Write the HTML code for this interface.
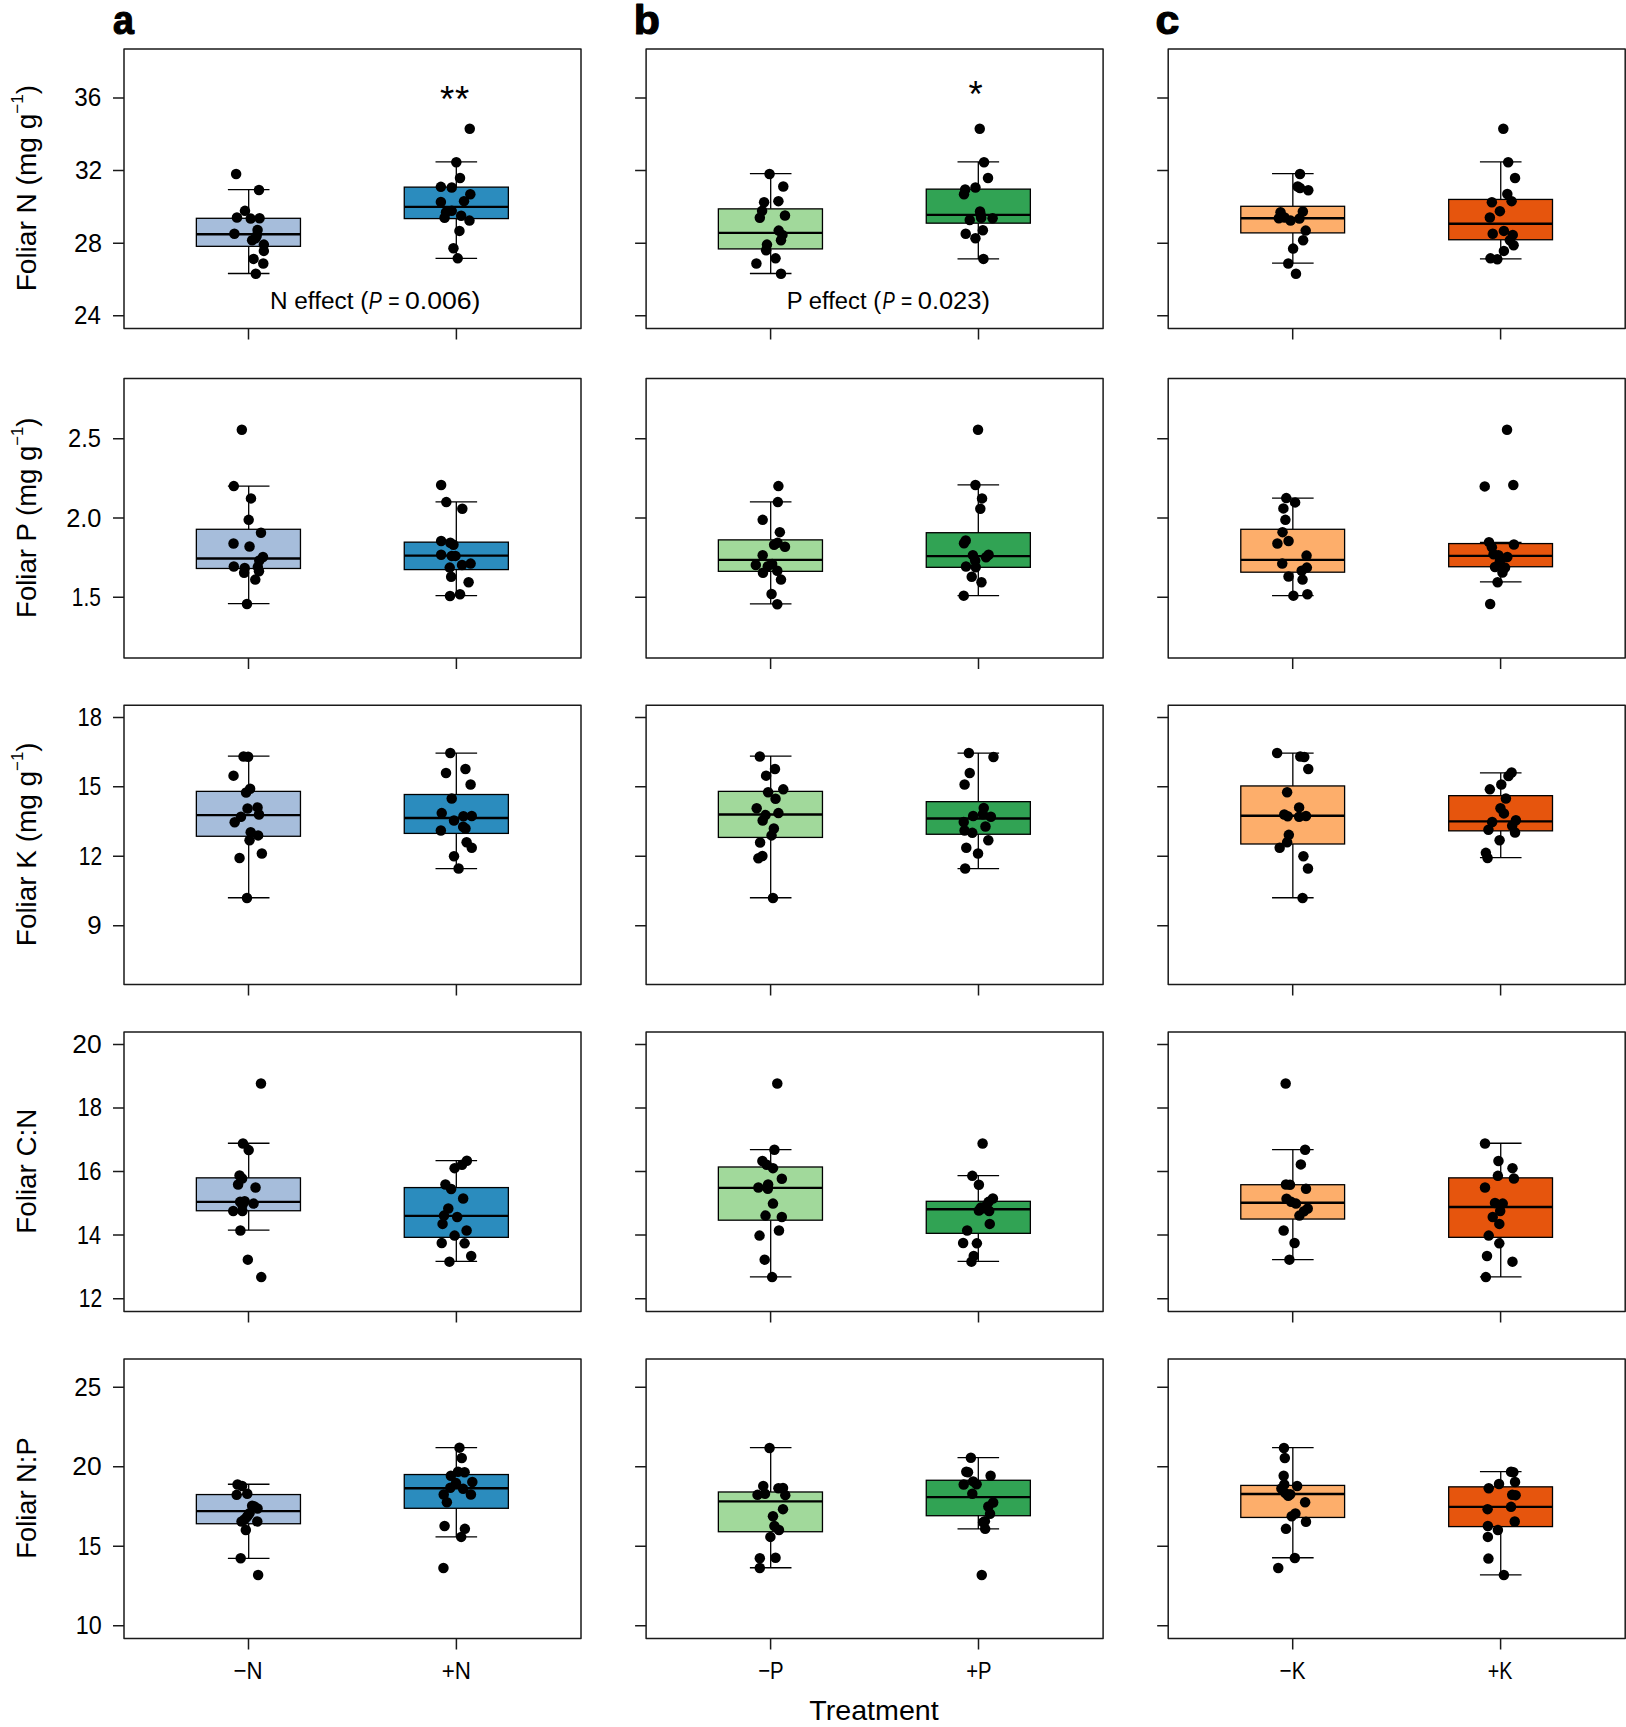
<!DOCTYPE html>
<html lang="en"><head><meta charset="utf-8"><title>Foliar nutrient responses to N, P and K treatments</title>
<style>html,body{margin:0;padding:0;background:#fff}body{width:1626px;height:1727px;overflow:hidden}svg{display:block}text{font-family:"Liberation Sans", Arial, Helvetica, sans-serif;fill:#000}</style></head><body>
<svg width="1626" height="1727" viewBox="0 0 1626 1727">
<rect width="1626" height="1727" fill="#fff"/>
<g id="panel-a1">
<rect x="124" y="49.1" width="457" height="279.3" fill="none" stroke="#1a1a1a" stroke-width="1.5" stroke-linejoin="round"/>
<path d="M113 98H124M113 170.6H124M113 243.2H124M113 315.8H124M248.5 328.4V339.4M456.4 328.4V339.4" stroke="#1a1a1a" stroke-width="1.5" fill="none"/>
<path d="M248.69 189.7V218.3M248.69 246.33V273.5M227.89 189.7H269.49M227.89 273.5H269.49" stroke="#000" stroke-width="1.3" fill="none"/>
<rect x="196.36" y="218.3" width="104.1" height="28.03" fill="#a6bddb" stroke="#000" stroke-width="1.3"/>
<path d="M196.36 234.32H300.45" stroke="#000" stroke-width="2.4"/>
<path d="M456.31 161.96V187.13M456.31 218.59V258.34M435.51 161.96H477.11M435.51 258.34H477.11" stroke="#000" stroke-width="1.3" fill="none"/>
<rect x="404.26" y="187.13" width="104.1" height="31.46" fill="#2b8cbe" stroke="#000" stroke-width="1.3"/>
<path d="M404.26 206.86H508.36" stroke="#000" stroke-width="2.4"/>
<g fill="#000"><circle cx="236.11" cy="173.98" r="5.25"/><circle cx="258.99" cy="189.99" r="5.25"/><circle cx="244.97" cy="210.87" r="5.25"/><circle cx="236.96" cy="217.44" r="5.25"/><circle cx="250.69" cy="218.59" r="5.25"/><circle cx="259.56" cy="218.3" r="5.25"/><circle cx="257.56" cy="230.03" r="5.25"/><circle cx="234.39" cy="233.75" r="5.25"/><circle cx="256.7" cy="235.75" r="5.25"/><circle cx="252.12" cy="240.32" r="5.25"/><circle cx="263.85" cy="244.61" r="5.25"/><circle cx="263.85" cy="250.9" r="5.25"/><circle cx="253.55" cy="258.91" r="5.25"/><circle cx="263.27" cy="263.49" r="5.25"/><circle cx="255.84" cy="273.78" r="5.25"/><circle cx="255.55" cy="238.32" r="5.25"/><circle cx="469.75" cy="128.79" r="5.25"/><circle cx="456.31" cy="162.25" r="5.25"/><circle cx="460.03" cy="177.98" r="5.25"/><circle cx="440.87" cy="186.85" r="5.25"/><circle cx="451.73" cy="187.42" r="5.25"/><circle cx="470.32" cy="194.28" r="5.25"/><circle cx="440.87" cy="202" r="5.25"/><circle cx="464.03" cy="201.14" r="5.25"/><circle cx="451.73" cy="210.87" r="5.25"/><circle cx="446.01" cy="212.3" r="5.25"/><circle cx="444.58" cy="217.73" r="5.25"/><circle cx="461.17" cy="215.73" r="5.25"/><circle cx="469.46" cy="220.59" r="5.25"/><circle cx="459.46" cy="230.89" r="5.25"/><circle cx="453.45" cy="248.33" r="5.25"/><circle cx="457.74" cy="258.34" r="5.25"/></g>
</g>
<g id="panel-b1">
<rect x="646.1" y="49.1" width="457" height="279.3" fill="none" stroke="#1a1a1a" stroke-width="1.5" stroke-linejoin="round"/>
<path d="M635.1 98H646.1M635.1 170.6H646.1M635.1 243.2H646.1M635.1 315.8H646.1M770.6 328.4V339.4M978.5 328.4V339.4" stroke="#1a1a1a" stroke-width="1.5" fill="none"/>
<path d="M770.69 173.69V208.87M770.69 248.9V273.5M749.89 173.69H791.49M749.89 273.5H791.49" stroke="#000" stroke-width="1.3" fill="none"/>
<rect x="718.36" y="208.87" width="104.1" height="40.04" fill="#a1d99b" stroke="#000" stroke-width="1.3"/>
<path d="M718.36 232.89H822.45" stroke="#000" stroke-width="2.4"/>
<path d="M978.31 161.96V189.13M978.31 223.16V258.91M957.51 161.96H999.11M957.51 258.91H999.11" stroke="#000" stroke-width="1.3" fill="none"/>
<rect x="926.26" y="189.13" width="104.1" height="34.03" fill="#31a354" stroke="#000" stroke-width="1.3"/>
<path d="M926.26 214.87H1030.36" stroke="#000" stroke-width="2.4"/>
<g fill="#000"><circle cx="769.55" cy="173.98" r="5.25"/><circle cx="783.27" cy="186.56" r="5.25"/><circle cx="764.11" cy="202.29" r="5.25"/><circle cx="778.41" cy="201.14" r="5.25"/><circle cx="762.11" cy="210.87" r="5.25"/><circle cx="759.82" cy="217.73" r="5.25"/><circle cx="784.99" cy="215.44" r="5.25"/><circle cx="778.7" cy="230.6" r="5.25"/><circle cx="782.42" cy="234.89" r="5.25"/><circle cx="780.99" cy="240.32" r="5.25"/><circle cx="766.97" cy="244.61" r="5.25"/><circle cx="766.11" cy="250.33" r="5.25"/><circle cx="775.55" cy="258.34" r="5.25"/><circle cx="756.39" cy="263.49" r="5.25"/><circle cx="780.99" cy="273.78" r="5.25"/><circle cx="979.74" cy="128.79" r="5.25"/><circle cx="984.03" cy="162.25" r="5.25"/><circle cx="988.03" cy="177.98" r="5.25"/><circle cx="975.45" cy="187.42" r="5.25"/><circle cx="965.15" cy="189.42" r="5.25"/><circle cx="964.01" cy="194.28" r="5.25"/><circle cx="980.03" cy="211.44" r="5.25"/><circle cx="981.17" cy="217.73" r="5.25"/><circle cx="969.73" cy="220.02" r="5.25"/><circle cx="992.61" cy="218.3" r="5.25"/><circle cx="982.89" cy="230.31" r="5.25"/><circle cx="965.73" cy="233.75" r="5.25"/><circle cx="975.45" cy="238.32" r="5.25"/><circle cx="983.46" cy="258.91" r="5.25"/><circle cx="980.6" cy="214.58" r="5.25"/></g>
</g>
<g id="panel-c1">
<rect x="1168.2" y="49.1" width="457" height="279.3" fill="none" stroke="#1a1a1a" stroke-width="1.5" stroke-linejoin="round"/>
<path d="M1157.2 98H1168.2M1157.2 170.6H1168.2M1157.2 243.2H1168.2M1157.2 315.8H1168.2M1292.7 328.4V339.4M1500.6 328.4V339.4" stroke="#1a1a1a" stroke-width="1.5" fill="none"/>
<path d="M1292.84 173.69V206.29M1292.84 232.89V263.2M1272.04 173.69H1313.64M1272.04 263.2H1313.64" stroke="#000" stroke-width="1.3" fill="none"/>
<rect x="1240.79" y="206.29" width="103.81" height="26.6" fill="#fdae6b" stroke="#000" stroke-width="1.3"/>
<path d="M1240.79 218.3H1344.6" stroke="#000" stroke-width="2.4"/>
<path d="M1500.74 161.96V199.43M1500.74 239.75V258.91M1479.94 161.96H1521.54M1479.94 258.91H1521.54" stroke="#000" stroke-width="1.3" fill="none"/>
<rect x="1448.69" y="199.43" width="103.81" height="40.32" fill="#e6550d" stroke="#000" stroke-width="1.3"/>
<path d="M1448.69 223.74H1552.5" stroke="#000" stroke-width="2.4"/>
<g fill="#000"><circle cx="1299.99" cy="173.98" r="5.25"/><circle cx="1297.7" cy="186.56" r="5.25"/><circle cx="1299.99" cy="187.99" r="5.25"/><circle cx="1308.28" cy="190.28" r="5.25"/><circle cx="1280.54" cy="212.3" r="5.25"/><circle cx="1302.85" cy="211.44" r="5.25"/><circle cx="1278.82" cy="218.3" r="5.25"/><circle cx="1284.54" cy="217.44" r="5.25"/><circle cx="1290.55" cy="220.59" r="5.25"/><circle cx="1299.41" cy="218.59" r="5.25"/><circle cx="1305.7" cy="230.6" r="5.25"/><circle cx="1303.13" cy="240.32" r="5.25"/><circle cx="1293.12" cy="248.62" r="5.25"/><circle cx="1288.26" cy="263.49" r="5.25"/><circle cx="1295.98" cy="273.78" r="5.25"/><circle cx="1503.32" cy="128.79" r="5.25"/><circle cx="1508.18" cy="162.25" r="5.25"/><circle cx="1515.04" cy="177.98" r="5.25"/><circle cx="1507.32" cy="193.99" r="5.25"/><circle cx="1511.61" cy="201.14" r="5.25"/><circle cx="1491.88" cy="202.29" r="5.25"/><circle cx="1499.88" cy="211.15" r="5.25"/><circle cx="1489.87" cy="217.44" r="5.25"/><circle cx="1503.89" cy="230.89" r="5.25"/><circle cx="1492.73" cy="233.75" r="5.25"/><circle cx="1512.75" cy="234.89" r="5.25"/><circle cx="1509.89" cy="240.32" r="5.25"/><circle cx="1513.61" cy="245.18" r="5.25"/><circle cx="1503.89" cy="250.9" r="5.25"/><circle cx="1490.45" cy="258.34" r="5.25"/><circle cx="1497.31" cy="259.2" r="5.25"/></g>
</g>
<g id="panel-a2">
<rect x="124" y="378.6" width="457" height="279.4" fill="none" stroke="#1a1a1a" stroke-width="1.5" stroke-linejoin="round"/>
<path d="M113 438.65H124M113 518.1H124M113 597.3H124M248.5 658V669M456.4 658V669" stroke="#1a1a1a" stroke-width="1.5" fill="none"/>
<path d="M248.69 486.1V529.29M248.69 568.46V603.64M227.89 486.1H269.49M227.89 603.64H269.49" stroke="#000" stroke-width="1.3" fill="none"/>
<rect x="196.36" y="529.29" width="104.1" height="39.18" fill="#a6bddb" stroke="#000" stroke-width="1.3"/>
<path d="M196.36 558.46H300.45" stroke="#000" stroke-width="2.4"/>
<path d="M456.31 501.83V542.15M456.31 569.61V595.63M435.51 501.83H477.11M435.51 595.63H477.11" stroke="#000" stroke-width="1.3" fill="none"/>
<rect x="404.26" y="542.15" width="104.1" height="27.45" fill="#2b8cbe" stroke="#000" stroke-width="1.3"/>
<path d="M404.26 555.6H508.36" stroke="#000" stroke-width="2.4"/>
<g fill="#000"><circle cx="241.83" cy="429.77" r="5.25"/><circle cx="233.82" cy="486.1" r="5.25"/><circle cx="250.98" cy="498.4" r="5.25"/><circle cx="248.69" cy="519.85" r="5.25"/><circle cx="260.99" cy="532.72" r="5.25"/><circle cx="233.53" cy="543.58" r="5.25"/><circle cx="249.55" cy="546.44" r="5.25"/><circle cx="262.99" cy="557.03" r="5.25"/><circle cx="259.27" cy="560.46" r="5.25"/><circle cx="233.82" cy="566.46" r="5.25"/><circle cx="244.69" cy="567.89" r="5.25"/><circle cx="257.84" cy="567.04" r="5.25"/><circle cx="244.11" cy="572.75" r="5.25"/><circle cx="258.99" cy="571.32" r="5.25"/><circle cx="255.27" cy="579.62" r="5.25"/><circle cx="246.97" cy="603.93" r="5.25"/><circle cx="441.15" cy="484.96" r="5.25"/><circle cx="446.3" cy="502.12" r="5.25"/><circle cx="462.32" cy="508.7" r="5.25"/><circle cx="441.15" cy="541.01" r="5.25"/><circle cx="450.3" cy="542.73" r="5.25"/><circle cx="453.45" cy="544.73" r="5.25"/><circle cx="441.15" cy="554.74" r="5.25"/><circle cx="451.73" cy="555.88" r="5.25"/><circle cx="455.45" cy="555.88" r="5.25"/><circle cx="470.61" cy="563.6" r="5.25"/><circle cx="462.03" cy="565.03" r="5.25"/><circle cx="449.73" cy="567.61" r="5.25"/><circle cx="451.16" cy="576.76" r="5.25"/><circle cx="468.61" cy="582.19" r="5.25"/><circle cx="460.03" cy="594.2" r="5.25"/><circle cx="450.02" cy="595.92" r="5.25"/></g>
</g>
<g id="panel-b2">
<rect x="646.1" y="378.6" width="457" height="279.4" fill="none" stroke="#1a1a1a" stroke-width="1.5" stroke-linejoin="round"/>
<path d="M635.1 438.65H646.1M635.1 518.1H646.1M635.1 597.3H646.1M770.6 658V669M978.5 658V669" stroke="#1a1a1a" stroke-width="1.5" fill="none"/>
<path d="M770.69 501.83V539.87M770.69 571.32V603.93M749.89 501.83H791.49M749.89 603.93H791.49" stroke="#000" stroke-width="1.3" fill="none"/>
<rect x="718.36" y="539.87" width="104.1" height="31.46" fill="#a1d99b" stroke="#000" stroke-width="1.3"/>
<path d="M718.36 559.89H822.45" stroke="#000" stroke-width="2.4"/>
<path d="M978.31 484.96V532.72M978.31 567.32V595.63M957.51 484.96H999.11M957.51 595.63H999.11" stroke="#000" stroke-width="1.3" fill="none"/>
<rect x="926.26" y="532.72" width="104.1" height="34.6" fill="#31a354" stroke="#000" stroke-width="1.3"/>
<path d="M926.26 556.17H1030.36" stroke="#000" stroke-width="2.4"/>
<g fill="#000"><circle cx="778.41" cy="486.1" r="5.25"/><circle cx="777.84" cy="502.12" r="5.25"/><circle cx="762.68" cy="519.85" r="5.25"/><circle cx="779.84" cy="532.15" r="5.25"/><circle cx="777.55" cy="542.73" r="5.25"/><circle cx="774.12" cy="544.73" r="5.25"/><circle cx="784.99" cy="546.73" r="5.25"/><circle cx="762.68" cy="555.31" r="5.25"/><circle cx="755.82" cy="565.03" r="5.25"/><circle cx="772.12" cy="563.89" r="5.25"/><circle cx="767.83" cy="566.18" r="5.25"/><circle cx="777.27" cy="570.75" r="5.25"/><circle cx="762.97" cy="572.75" r="5.25"/><circle cx="780.99" cy="579.62" r="5.25"/><circle cx="771.55" cy="593.92" r="5.25"/><circle cx="777.27" cy="604.21" r="5.25"/><circle cx="978.02" cy="429.77" r="5.25"/><circle cx="975.45" cy="484.96" r="5.25"/><circle cx="982.03" cy="498.4" r="5.25"/><circle cx="980.31" cy="508.7" r="5.25"/><circle cx="965.73" cy="540.44" r="5.25"/><circle cx="964.01" cy="543.3" r="5.25"/><circle cx="972.88" cy="555.31" r="5.25"/><circle cx="988.61" cy="554.74" r="5.25"/><circle cx="986.03" cy="557.31" r="5.25"/><circle cx="975.16" cy="560.46" r="5.25"/><circle cx="966.01" cy="566.46" r="5.25"/><circle cx="975.74" cy="567.32" r="5.25"/><circle cx="971.73" cy="576.76" r="5.25"/><circle cx="981.46" cy="582.19" r="5.25"/><circle cx="963.73" cy="595.63" r="5.25"/></g>
</g>
<g id="panel-c2">
<rect x="1168.2" y="378.6" width="457" height="279.4" fill="none" stroke="#1a1a1a" stroke-width="1.5" stroke-linejoin="round"/>
<path d="M1157.2 438.65H1168.2M1157.2 518.1H1168.2M1157.2 597.3H1168.2M1292.7 658V669M1500.6 658V669" stroke="#1a1a1a" stroke-width="1.5" fill="none"/>
<path d="M1292.84 498.11V529.29M1292.84 572.18V595.63M1272.04 498.11H1313.64M1272.04 595.63H1313.64" stroke="#000" stroke-width="1.3" fill="none"/>
<rect x="1240.79" y="529.29" width="103.81" height="42.9" fill="#fdae6b" stroke="#000" stroke-width="1.3"/>
<path d="M1240.79 559.89H1344.6" stroke="#000" stroke-width="2.4"/>
<path d="M1500.74 542.44V543.58M1500.74 566.75V581.91M1479.94 542.44H1521.54M1479.94 581.91H1521.54" stroke="#000" stroke-width="1.3" fill="none"/>
<rect x="1448.69" y="543.58" width="103.81" height="23.16" fill="#e6550d" stroke="#000" stroke-width="1.3"/>
<path d="M1448.69 555.88H1552.5" stroke="#000" stroke-width="2.4"/>
<g fill="#000"><circle cx="1286.26" cy="498.11" r="5.25"/><circle cx="1295.12" cy="502.4" r="5.25"/><circle cx="1283.4" cy="508.41" r="5.25"/><circle cx="1285.4" cy="519.85" r="5.25"/><circle cx="1282.54" cy="532.15" r="5.25"/><circle cx="1288.55" cy="541.01" r="5.25"/><circle cx="1277.39" cy="543.58" r="5.25"/><circle cx="1306.56" cy="555.6" r="5.25"/><circle cx="1282.25" cy="563.6" r="5.25"/><circle cx="1306.85" cy="567.61" r="5.25"/><circle cx="1301.7" cy="570.75" r="5.25"/><circle cx="1288.55" cy="576.47" r="5.25"/><circle cx="1302.56" cy="579.62" r="5.25"/><circle cx="1293.41" cy="595.63" r="5.25"/><circle cx="1307.42" cy="594.2" r="5.25"/><circle cx="1507.03" cy="429.77" r="5.25"/><circle cx="1484.73" cy="486.39" r="5.25"/><circle cx="1513.32" cy="484.96" r="5.25"/><circle cx="1489.02" cy="542.15" r="5.25"/><circle cx="1513.9" cy="544.44" r="5.25"/><circle cx="1491.88" cy="547.3" r="5.25"/><circle cx="1493.59" cy="554.17" r="5.25"/><circle cx="1498.45" cy="555.31" r="5.25"/><circle cx="1507.32" cy="557.03" r="5.25"/><circle cx="1499.88" cy="561.32" r="5.25"/><circle cx="1495.02" cy="567.04" r="5.25"/><circle cx="1505.03" cy="567.61" r="5.25"/><circle cx="1502.46" cy="572.47" r="5.25"/><circle cx="1497.6" cy="582.19" r="5.25"/><circle cx="1490.16" cy="603.93" r="5.25"/></g>
</g>
<g id="panel-a3">
<rect x="124" y="705.15" width="457" height="279.45" fill="none" stroke="#1a1a1a" stroke-width="1.5" stroke-linejoin="round"/>
<path d="M113 717.4H124M113 786.8H124M113 856.3H124M113 925.8H124M248.5 984.6V995.6M456.4 984.6V995.6" stroke="#1a1a1a" stroke-width="1.5" fill="none"/>
<path d="M248.69 756.19V791.37M248.69 836.27V897.75M227.89 756.19H269.49M227.89 897.75H269.49" stroke="#000" stroke-width="1.3" fill="none"/>
<rect x="196.36" y="791.37" width="104.1" height="44.9" fill="#a6bddb" stroke="#000" stroke-width="1.3"/>
<path d="M196.36 815.11H300.45" stroke="#000" stroke-width="2.4"/>
<path d="M456.31 753.05V794.51M456.31 833.41V868.58M435.51 753.05H477.11M435.51 868.58H477.11" stroke="#000" stroke-width="1.3" fill="none"/>
<rect x="404.26" y="794.51" width="104.1" height="38.89" fill="#2b8cbe" stroke="#000" stroke-width="1.3"/>
<path d="M404.26 817.96H508.36" stroke="#000" stroke-width="2.4"/>
<g fill="#000"><circle cx="243.54" cy="756.48" r="5.25"/><circle cx="248.12" cy="756.77" r="5.25"/><circle cx="233.53" cy="775.64" r="5.25"/><circle cx="250.12" cy="788.8" r="5.25"/><circle cx="246.12" cy="792.51" r="5.25"/><circle cx="257.56" cy="807.38" r="5.25"/><circle cx="247.55" cy="808.53" r="5.25"/><circle cx="258.99" cy="814.53" r="5.25"/><circle cx="240.97" cy="816.82" r="5.25"/><circle cx="234.68" cy="822.25" r="5.25"/><circle cx="250.69" cy="832.26" r="5.25"/><circle cx="258.13" cy="835.41" r="5.25"/><circle cx="249.55" cy="840.27" r="5.25"/><circle cx="261.85" cy="853.43" r="5.25"/><circle cx="239.54" cy="858" r="5.25"/><circle cx="246.97" cy="898.04" r="5.25"/><circle cx="450.3" cy="753.05" r="5.25"/><circle cx="465.46" cy="769.06" r="5.25"/><circle cx="446.01" cy="773.07" r="5.25"/><circle cx="470.61" cy="784.51" r="5.25"/><circle cx="451.73" cy="798.52" r="5.25"/><circle cx="441.73" cy="813.1" r="5.25"/><circle cx="463.46" cy="816.25" r="5.25"/><circle cx="471.75" cy="815.96" r="5.25"/><circle cx="454.02" cy="820.54" r="5.25"/><circle cx="463.17" cy="826.83" r="5.25"/><circle cx="465.46" cy="828.55" r="5.25"/><circle cx="440.87" cy="830.55" r="5.25"/><circle cx="466.61" cy="842.27" r="5.25"/><circle cx="471.75" cy="847.71" r="5.25"/><circle cx="454.02" cy="856.29" r="5.25"/><circle cx="458.6" cy="868.58" r="5.25"/></g>
</g>
<g id="panel-b3">
<rect x="646.1" y="705.15" width="457" height="279.45" fill="none" stroke="#1a1a1a" stroke-width="1.5" stroke-linejoin="round"/>
<path d="M635.1 717.4H646.1M635.1 786.8H646.1M635.1 856.3H646.1M635.1 925.8H646.1M770.6 984.6V995.6M978.5 984.6V995.6" stroke="#1a1a1a" stroke-width="1.5" fill="none"/>
<path d="M770.69 756.19V791.37M770.69 837.41V897.75M749.89 756.19H791.49M749.89 897.75H791.49" stroke="#000" stroke-width="1.3" fill="none"/>
<rect x="718.36" y="791.37" width="104.1" height="46.04" fill="#a1d99b" stroke="#000" stroke-width="1.3"/>
<path d="M718.36 814.53H822.45" stroke="#000" stroke-width="2.4"/>
<path d="M978.31 753.05V801.66M978.31 834.27V868.58M957.51 753.05H999.11M957.51 868.58H999.11" stroke="#000" stroke-width="1.3" fill="none"/>
<rect x="926.26" y="801.66" width="104.1" height="32.6" fill="#31a354" stroke="#000" stroke-width="1.3"/>
<path d="M926.26 818.54H1030.36" stroke="#000" stroke-width="2.4"/>
<g fill="#000"><circle cx="759.82" cy="756.48" r="5.25"/><circle cx="774.98" cy="769.06" r="5.25"/><circle cx="766.11" cy="775.64" r="5.25"/><circle cx="783.27" cy="789.37" r="5.25"/><circle cx="768.12" cy="792.23" r="5.25"/><circle cx="775.55" cy="798.8" r="5.25"/><circle cx="756.68" cy="808.24" r="5.25"/><circle cx="778.41" cy="813.1" r="5.25"/><circle cx="765.54" cy="815.11" r="5.25"/><circle cx="762.68" cy="820.54" r="5.25"/><circle cx="773.84" cy="828.55" r="5.25"/><circle cx="771.55" cy="835.41" r="5.25"/><circle cx="760.11" cy="842.56" r="5.25"/><circle cx="762.4" cy="856" r="5.25"/><circle cx="758.39" cy="858.29" r="5.25"/><circle cx="772.98" cy="898.04" r="5.25"/><circle cx="968.87" cy="753.05" r="5.25"/><circle cx="993.47" cy="757.05" r="5.25"/><circle cx="969.73" cy="773.07" r="5.25"/><circle cx="964.58" cy="784.51" r="5.25"/><circle cx="983.74" cy="807.96" r="5.25"/><circle cx="973.16" cy="815.96" r="5.25"/><circle cx="982.89" cy="814.25" r="5.25"/><circle cx="990.89" cy="816.82" r="5.25"/><circle cx="963.73" cy="821.97" r="5.25"/><circle cx="985.46" cy="826.54" r="5.25"/><circle cx="964.58" cy="830.55" r="5.25"/><circle cx="972.3" cy="832.84" r="5.25"/><circle cx="988.32" cy="840.27" r="5.25"/><circle cx="966.3" cy="847.71" r="5.25"/><circle cx="978.02" cy="853.43" r="5.25"/><circle cx="965.15" cy="868.58" r="5.25"/></g>
</g>
<g id="panel-c3">
<rect x="1168.2" y="705.15" width="457" height="279.45" fill="none" stroke="#1a1a1a" stroke-width="1.5" stroke-linejoin="round"/>
<path d="M1157.2 717.4H1168.2M1157.2 786.8H1168.2M1157.2 856.3H1168.2M1157.2 925.8H1168.2M1292.7 984.6V995.6M1500.6 984.6V995.6" stroke="#1a1a1a" stroke-width="1.5" fill="none"/>
<path d="M1292.84 753.05V785.94M1292.84 843.99V897.75M1272.04 753.05H1313.64M1272.04 897.75H1313.64" stroke="#000" stroke-width="1.3" fill="none"/>
<rect x="1240.79" y="785.94" width="103.81" height="58.05" fill="#fdae6b" stroke="#000" stroke-width="1.3"/>
<path d="M1240.79 815.68H1344.6" stroke="#000" stroke-width="2.4"/>
<path d="M1500.74 772.78V795.66M1500.74 830.83V857.72M1479.94 772.78H1521.54M1479.94 857.72H1521.54" stroke="#000" stroke-width="1.3" fill="none"/>
<rect x="1448.69" y="795.66" width="103.81" height="35.18" fill="#e6550d" stroke="#000" stroke-width="1.3"/>
<path d="M1448.69 821.4H1552.5" stroke="#000" stroke-width="2.4"/>
<g fill="#000"><circle cx="1277.11" cy="753.05" r="5.25"/><circle cx="1300.27" cy="756.48" r="5.25"/><circle cx="1304.27" cy="757.05" r="5.25"/><circle cx="1308.28" cy="769.06" r="5.25"/><circle cx="1287.12" cy="792.23" r="5.25"/><circle cx="1299.13" cy="807.38" r="5.25"/><circle cx="1284.26" cy="814.53" r="5.25"/><circle cx="1287.69" cy="816.25" r="5.25"/><circle cx="1299.13" cy="816.82" r="5.25"/><circle cx="1305.99" cy="815.96" r="5.25"/><circle cx="1288.83" cy="834.84" r="5.25"/><circle cx="1287.12" cy="842.27" r="5.25"/><circle cx="1279.68" cy="847.71" r="5.25"/><circle cx="1303.42" cy="856.29" r="5.25"/><circle cx="1307.99" cy="868.58" r="5.25"/><circle cx="1302.56" cy="898.04" r="5.25"/><circle cx="1511.61" cy="772.49" r="5.25"/><circle cx="1508.46" cy="775.93" r="5.25"/><circle cx="1501.31" cy="784.51" r="5.25"/><circle cx="1489.87" cy="789.37" r="5.25"/><circle cx="1505.89" cy="798.52" r="5.25"/><circle cx="1500.46" cy="808.24" r="5.25"/><circle cx="1503.89" cy="813.39" r="5.25"/><circle cx="1515.9" cy="820.25" r="5.25"/><circle cx="1492.16" cy="821.97" r="5.25"/><circle cx="1512.18" cy="825.69" r="5.25"/><circle cx="1488.44" cy="829.69" r="5.25"/><circle cx="1515.04" cy="832.55" r="5.25"/><circle cx="1499.6" cy="840.27" r="5.25"/><circle cx="1485.87" cy="852.85" r="5.25"/><circle cx="1487.59" cy="858" r="5.25"/></g>
</g>
<g id="panel-a4">
<rect x="124" y="1032" width="457" height="279.5" fill="none" stroke="#1a1a1a" stroke-width="1.5" stroke-linejoin="round"/>
<path d="M113 1044.4H124M113 1108H124M113 1171.6H124M113 1235.1H124M113 1298.8H124M248.5 1311.5V1322.5M456.4 1311.5V1322.5" stroke="#1a1a1a" stroke-width="1.5" fill="none"/>
<path d="M248.69 1143.25V1177.85M248.69 1210.74V1230.19M227.89 1143.25H269.49M227.89 1230.19H269.49" stroke="#000" stroke-width="1.3" fill="none"/>
<rect x="196.36" y="1177.85" width="104.1" height="32.89" fill="#a6bddb" stroke="#000" stroke-width="1.3"/>
<path d="M196.36 1201.87H300.45" stroke="#000" stroke-width="2.4"/>
<path d="M456.31 1160.69V1187.58M456.31 1237.34V1261.36M435.51 1160.69H477.11M435.51 1261.36H477.11" stroke="#000" stroke-width="1.3" fill="none"/>
<rect x="404.26" y="1187.58" width="104.1" height="49.76" fill="#2b8cbe" stroke="#000" stroke-width="1.3"/>
<path d="M404.26 1215.89H508.36" stroke="#000" stroke-width="2.4"/>
<g fill="#000"><circle cx="260.99" cy="1083.48" r="5.25"/><circle cx="242.97" cy="1143.54" r="5.25"/><circle cx="248.69" cy="1150.11" r="5.25"/><circle cx="239.54" cy="1175.56" r="5.25"/><circle cx="242.11" cy="1178.42" r="5.25"/><circle cx="238.11" cy="1184.43" r="5.25"/><circle cx="255.55" cy="1187.58" r="5.25"/><circle cx="240.11" cy="1201.87" r="5.25"/><circle cx="244.69" cy="1201.3" r="5.25"/><circle cx="253.55" cy="1203.59" r="5.25"/><circle cx="233.25" cy="1211.03" r="5.25"/><circle cx="242.4" cy="1211.03" r="5.25"/><circle cx="240.4" cy="1230.47" r="5.25"/><circle cx="247.83" cy="1259.64" r="5.25"/><circle cx="261.27" cy="1277.09" r="5.25"/><circle cx="242.4" cy="1205.31" r="5.25"/><circle cx="466.89" cy="1160.69" r="5.25"/><circle cx="462.03" cy="1164.7" r="5.25"/><circle cx="454.59" cy="1168.13" r="5.25"/><circle cx="445.44" cy="1184.43" r="5.25"/><circle cx="451.16" cy="1189.01" r="5.25"/><circle cx="463.17" cy="1198.44" r="5.25"/><circle cx="448.3" cy="1208.45" r="5.25"/><circle cx="444.01" cy="1215.6" r="5.25"/><circle cx="457.17" cy="1217.03" r="5.25"/><circle cx="442.58" cy="1223.89" r="5.25"/><circle cx="466.61" cy="1230.47" r="5.25"/><circle cx="454.59" cy="1235.62" r="5.25"/><circle cx="441.73" cy="1243.06" r="5.25"/><circle cx="464.6" cy="1243.34" r="5.25"/><circle cx="471.18" cy="1255.92" r="5.25"/><circle cx="449.45" cy="1261.64" r="5.25"/></g>
</g>
<g id="panel-b4">
<rect x="646.1" y="1032" width="457" height="279.5" fill="none" stroke="#1a1a1a" stroke-width="1.5" stroke-linejoin="round"/>
<path d="M635.1 1044.4H646.1M635.1 1108H646.1M635.1 1171.6H646.1M635.1 1235.1H646.1M635.1 1298.8H646.1M770.6 1311.5V1322.5M978.5 1311.5V1322.5" stroke="#1a1a1a" stroke-width="1.5" fill="none"/>
<path d="M770.69 1149.54V1166.99M770.69 1220.18V1276.8M749.89 1149.54H791.49M749.89 1276.8H791.49" stroke="#000" stroke-width="1.3" fill="none"/>
<rect x="718.36" y="1166.99" width="104.1" height="53.19" fill="#a1d99b" stroke="#000" stroke-width="1.3"/>
<path d="M718.36 1187.86H822.45" stroke="#000" stroke-width="2.4"/>
<path d="M978.31 1175.56V1201.3M978.31 1233.33V1261.36M957.51 1175.56H999.11M957.51 1261.36H999.11" stroke="#000" stroke-width="1.3" fill="none"/>
<rect x="926.26" y="1201.3" width="104.1" height="32.03" fill="#31a354" stroke="#000" stroke-width="1.3"/>
<path d="M926.26 1209.31H1030.36" stroke="#000" stroke-width="2.4"/>
<g fill="#000"><circle cx="777.27" cy="1083.48" r="5.25"/><circle cx="774.41" cy="1149.83" r="5.25"/><circle cx="762.4" cy="1160.98" r="5.25"/><circle cx="766.69" cy="1164.7" r="5.25"/><circle cx="772.98" cy="1168.13" r="5.25"/><circle cx="781.84" cy="1178.71" r="5.25"/><circle cx="768.12" cy="1184.43" r="5.25"/><circle cx="758.39" cy="1187.58" r="5.25"/><circle cx="767.83" cy="1188.72" r="5.25"/><circle cx="772.98" cy="1203.59" r="5.25"/><circle cx="765.54" cy="1215.6" r="5.25"/><circle cx="781.84" cy="1217.03" r="5.25"/><circle cx="778.98" cy="1230.47" r="5.25"/><circle cx="759.54" cy="1235.62" r="5.25"/><circle cx="764.68" cy="1259.64" r="5.25"/><circle cx="772.12" cy="1277.09" r="5.25"/><circle cx="982.6" cy="1143.54" r="5.25"/><circle cx="972.3" cy="1175.85" r="5.25"/><circle cx="978.88" cy="1184.72" r="5.25"/><circle cx="992.89" cy="1198.44" r="5.25"/><circle cx="988.61" cy="1201.87" r="5.25"/><circle cx="980.88" cy="1207.59" r="5.25"/><circle cx="978.88" cy="1210.45" r="5.25"/><circle cx="989.18" cy="1211.03" r="5.25"/><circle cx="989.75" cy="1223.89" r="5.25"/><circle cx="967.16" cy="1230.47" r="5.25"/><circle cx="963.15" cy="1243.06" r="5.25"/><circle cx="976.88" cy="1243.34" r="5.25"/><circle cx="973.73" cy="1255.92" r="5.25"/><circle cx="971.45" cy="1261.64" r="5.25"/><circle cx="986.6" cy="1205.31" r="5.25"/><circle cx="983.74" cy="1208.17" r="5.25"/></g>
</g>
<g id="panel-c4">
<rect x="1168.2" y="1032" width="457" height="279.5" fill="none" stroke="#1a1a1a" stroke-width="1.5" stroke-linejoin="round"/>
<path d="M1157.2 1044.4H1168.2M1157.2 1108H1168.2M1157.2 1171.6H1168.2M1157.2 1235.1H1168.2M1157.2 1298.8H1168.2M1292.7 1311.5V1322.5M1500.6 1311.5V1322.5" stroke="#1a1a1a" stroke-width="1.5" fill="none"/>
<path d="M1292.84 1149.54V1184.72M1292.84 1219.03V1259.64M1272.04 1149.54H1313.64M1272.04 1259.64H1313.64" stroke="#000" stroke-width="1.3" fill="none"/>
<rect x="1240.79" y="1184.72" width="103.81" height="34.32" fill="#fdae6b" stroke="#000" stroke-width="1.3"/>
<path d="M1240.79 1202.73H1344.6" stroke="#000" stroke-width="2.4"/>
<path d="M1500.74 1143.25V1177.85M1500.74 1237.34V1276.8M1479.94 1143.25H1521.54M1479.94 1276.8H1521.54" stroke="#000" stroke-width="1.3" fill="none"/>
<rect x="1448.69" y="1177.85" width="103.81" height="59.48" fill="#e6550d" stroke="#000" stroke-width="1.3"/>
<path d="M1448.69 1207.02H1552.5" stroke="#000" stroke-width="2.4"/>
<g fill="#000"><circle cx="1285.69" cy="1083.48" r="5.25"/><circle cx="1305.13" cy="1149.83" r="5.25"/><circle cx="1300.84" cy="1164.41" r="5.25"/><circle cx="1285.97" cy="1184.43" r="5.25"/><circle cx="1289.98" cy="1184.72" r="5.25"/><circle cx="1305.99" cy="1188.72" r="5.25"/><circle cx="1286.54" cy="1198.73" r="5.25"/><circle cx="1291.12" cy="1201.87" r="5.25"/><circle cx="1295.98" cy="1203.59" r="5.25"/><circle cx="1307.71" cy="1208.45" r="5.25"/><circle cx="1303.99" cy="1211.31" r="5.25"/><circle cx="1299.41" cy="1215.6" r="5.25"/><circle cx="1283.68" cy="1230.47" r="5.25"/><circle cx="1294.55" cy="1243.06" r="5.25"/><circle cx="1289.4" cy="1259.64" r="5.25"/><circle cx="1485.01" cy="1143.54" r="5.25"/><circle cx="1498.45" cy="1160.98" r="5.25"/><circle cx="1512.47" cy="1168.13" r="5.25"/><circle cx="1497.88" cy="1175.85" r="5.25"/><circle cx="1513.9" cy="1178.42" r="5.25"/><circle cx="1485.01" cy="1187.58" r="5.25"/><circle cx="1495.02" cy="1203.02" r="5.25"/><circle cx="1502.74" cy="1203.59" r="5.25"/><circle cx="1500.17" cy="1211.03" r="5.25"/><circle cx="1492.73" cy="1217.03" r="5.25"/><circle cx="1499.31" cy="1223.89" r="5.25"/><circle cx="1488.73" cy="1235.62" r="5.25"/><circle cx="1499.31" cy="1243.34" r="5.25"/><circle cx="1487.01" cy="1255.92" r="5.25"/><circle cx="1512.47" cy="1261.64" r="5.25"/><circle cx="1485.87" cy="1277.09" r="5.25"/></g>
</g>
<g id="panel-a5">
<rect x="124" y="1358.9" width="457" height="279.5" fill="none" stroke="#1a1a1a" stroke-width="1.5" stroke-linejoin="round"/>
<path d="M113 1387.3H124M113 1466.8H124M113 1546.3H124M113 1625.7H124M248.5 1638.4V1649.4M456.4 1638.4V1649.4" stroke="#1a1a1a" stroke-width="1.5" fill="none"/>
<path d="M248.69 1484.26V1494.56M248.69 1523.73V1558.33M227.89 1484.26H269.49M227.89 1558.33H269.49" stroke="#000" stroke-width="1.3" fill="none"/>
<rect x="196.36" y="1494.56" width="104.1" height="29.17" fill="#a6bddb" stroke="#000" stroke-width="1.3"/>
<path d="M196.36 1511.14H300.45" stroke="#000" stroke-width="2.4"/>
<path d="M456.31 1447.66V1474.54M456.31 1508.28V1536.88M435.51 1447.66H477.11M435.51 1536.88H477.11" stroke="#000" stroke-width="1.3" fill="none"/>
<rect x="404.26" y="1474.54" width="104.1" height="33.75" fill="#2b8cbe" stroke="#000" stroke-width="1.3"/>
<path d="M404.26 1488.27H508.36" stroke="#000" stroke-width="2.4"/>
<g fill="#000"><circle cx="237.54" cy="1484.55" r="5.25"/><circle cx="242.11" cy="1485.98" r="5.25"/><circle cx="236.68" cy="1494.84" r="5.25"/><circle cx="247.26" cy="1493.7" r="5.25"/><circle cx="252.12" cy="1505.71" r="5.25"/><circle cx="257.56" cy="1508.57" r="5.25"/><circle cx="249.55" cy="1513.15" r="5.25"/><circle cx="246.69" cy="1517.15" r="5.25"/><circle cx="241.54" cy="1521.44" r="5.25"/><circle cx="257.27" cy="1521.44" r="5.25"/><circle cx="245.83" cy="1530.02" r="5.25"/><circle cx="240.68" cy="1558.33" r="5.25"/><circle cx="258.13" cy="1574.92" r="5.25"/><circle cx="254.41" cy="1506.57" r="5.25"/><circle cx="248.12" cy="1515.15" r="5.25"/><circle cx="244.4" cy="1519.44" r="5.25"/><circle cx="459.46" cy="1447.66" r="5.25"/><circle cx="461.74" cy="1457.95" r="5.25"/><circle cx="458.03" cy="1471.68" r="5.25"/><circle cx="464.6" cy="1472.25" r="5.25"/><circle cx="450.88" cy="1475.68" r="5.25"/><circle cx="472.32" cy="1481.97" r="5.25"/><circle cx="456.02" cy="1483.12" r="5.25"/><circle cx="450.3" cy="1487.69" r="5.25"/><circle cx="463.17" cy="1488.84" r="5.25"/><circle cx="443.73" cy="1494.56" r="5.25"/><circle cx="470.89" cy="1494.56" r="5.25"/><circle cx="446.87" cy="1502.28" r="5.25"/><circle cx="444.58" cy="1526.01" r="5.25"/><circle cx="464.89" cy="1528.87" r="5.25"/><circle cx="461.17" cy="1536.88" r="5.25"/><circle cx="443.44" cy="1568.05" r="5.25"/></g>
</g>
<g id="panel-b5">
<rect x="646.1" y="1358.9" width="457" height="279.5" fill="none" stroke="#1a1a1a" stroke-width="1.5" stroke-linejoin="round"/>
<path d="M635.1 1387.3H646.1M635.1 1466.8H646.1M635.1 1546.3H646.1M635.1 1625.7H646.1M770.6 1638.4V1649.4M978.5 1638.4V1649.4" stroke="#1a1a1a" stroke-width="1.5" fill="none"/>
<path d="M770.69 1447.66V1491.98M770.69 1531.73V1567.77M749.89 1447.66H791.49M749.89 1567.77H791.49" stroke="#000" stroke-width="1.3" fill="none"/>
<rect x="718.36" y="1491.98" width="104.1" height="39.75" fill="#a1d99b" stroke="#000" stroke-width="1.3"/>
<path d="M718.36 1501.42H822.45" stroke="#000" stroke-width="2.4"/>
<path d="M978.31 1457.67V1480.26M978.31 1515.72V1528.87M957.51 1457.67H999.11M957.51 1528.87H999.11" stroke="#000" stroke-width="1.3" fill="none"/>
<rect x="926.26" y="1480.26" width="104.1" height="35.46" fill="#31a354" stroke="#000" stroke-width="1.3"/>
<path d="M926.26 1497.13H1030.36" stroke="#000" stroke-width="2.4"/>
<g fill="#000"><circle cx="769.55" cy="1447.94" r="5.25"/><circle cx="763.25" cy="1485.98" r="5.25"/><circle cx="778.41" cy="1488.27" r="5.25"/><circle cx="782.99" cy="1487.98" r="5.25"/><circle cx="757.54" cy="1494.84" r="5.25"/><circle cx="764.97" cy="1493.7" r="5.25"/><circle cx="785.27" cy="1495.13" r="5.25"/><circle cx="782.99" cy="1509.14" r="5.25"/><circle cx="772.98" cy="1516.29" r="5.25"/><circle cx="774.41" cy="1526.01" r="5.25"/><circle cx="778.98" cy="1530.02" r="5.25"/><circle cx="770.4" cy="1536.88" r="5.25"/><circle cx="759.82" cy="1558.33" r="5.25"/><circle cx="775.55" cy="1557.76" r="5.25"/><circle cx="759.82" cy="1568.05" r="5.25"/><circle cx="970.87" cy="1457.67" r="5.25"/><circle cx="966.3" cy="1471.68" r="5.25"/><circle cx="968.01" cy="1472.25" r="5.25"/><circle cx="990.61" cy="1475.68" r="5.25"/><circle cx="973.16" cy="1481.4" r="5.25"/><circle cx="963.73" cy="1484.55" r="5.25"/><circle cx="976.59" cy="1484.26" r="5.25"/><circle cx="972.3" cy="1493.7" r="5.25"/><circle cx="993.18" cy="1502.56" r="5.25"/><circle cx="988.32" cy="1506.57" r="5.25"/><circle cx="990.04" cy="1513.72" r="5.25"/><circle cx="984.89" cy="1521.15" r="5.25"/><circle cx="983.17" cy="1522.3" r="5.25"/><circle cx="985.17" cy="1528.87" r="5.25"/><circle cx="981.74" cy="1574.92" r="5.25"/></g>
</g>
<g id="panel-c5">
<rect x="1168.2" y="1358.9" width="457" height="279.5" fill="none" stroke="#1a1a1a" stroke-width="1.5" stroke-linejoin="round"/>
<path d="M1157.2 1387.3H1168.2M1157.2 1466.8H1168.2M1157.2 1546.3H1168.2M1157.2 1625.7H1168.2M1292.7 1638.4V1649.4M1500.6 1638.4V1649.4" stroke="#1a1a1a" stroke-width="1.5" fill="none"/>
<path d="M1292.84 1447.66V1485.41M1292.84 1517.44V1557.76M1272.04 1447.66H1313.64M1272.04 1557.76H1313.64" stroke="#000" stroke-width="1.3" fill="none"/>
<rect x="1240.79" y="1485.41" width="103.81" height="32.03" fill="#fdae6b" stroke="#000" stroke-width="1.3"/>
<path d="M1240.79 1493.99H1344.6" stroke="#000" stroke-width="2.4"/>
<path d="M1500.74 1471.68V1486.84M1500.74 1526.59V1574.92M1479.94 1471.68H1521.54M1479.94 1574.92H1521.54" stroke="#000" stroke-width="1.3" fill="none"/>
<rect x="1448.69" y="1486.84" width="103.81" height="39.75" fill="#e6550d" stroke="#000" stroke-width="1.3"/>
<path d="M1448.69 1506.85H1552.5" stroke="#000" stroke-width="2.4"/>
<g fill="#000"><circle cx="1283.97" cy="1447.94" r="5.25"/><circle cx="1284.83" cy="1457.95" r="5.25"/><circle cx="1283.68" cy="1475.68" r="5.25"/><circle cx="1284.26" cy="1484.55" r="5.25"/><circle cx="1281.4" cy="1488.55" r="5.25"/><circle cx="1297.13" cy="1485.98" r="5.25"/><circle cx="1285.69" cy="1493.41" r="5.25"/><circle cx="1290.26" cy="1494.27" r="5.25"/><circle cx="1288.26" cy="1495.7" r="5.25"/><circle cx="1305.13" cy="1502.28" r="5.25"/><circle cx="1295.41" cy="1513.43" r="5.25"/><circle cx="1291.69" cy="1516.29" r="5.25"/><circle cx="1305.99" cy="1521.73" r="5.25"/><circle cx="1285.97" cy="1528.87" r="5.25"/><circle cx="1294.84" cy="1558.04" r="5.25"/><circle cx="1278.25" cy="1568.05" r="5.25"/><circle cx="1511.04" cy="1471.68" r="5.25"/><circle cx="1513.32" cy="1472.25" r="5.25"/><circle cx="1515.04" cy="1481.97" r="5.25"/><circle cx="1499.03" cy="1483.98" r="5.25"/><circle cx="1488.73" cy="1488.27" r="5.25"/><circle cx="1512.18" cy="1494.84" r="5.25"/><circle cx="1515.61" cy="1495.13" r="5.25"/><circle cx="1511.04" cy="1506.85" r="5.25"/><circle cx="1487.59" cy="1509.14" r="5.25"/><circle cx="1514.75" cy="1521.44" r="5.25"/><circle cx="1487.87" cy="1526.01" r="5.25"/><circle cx="1497.88" cy="1530.02" r="5.25"/><circle cx="1487.87" cy="1536.88" r="5.25"/><circle cx="1488.44" cy="1558.62" r="5.25"/><circle cx="1503.89" cy="1574.92" r="5.25"/></g>
</g>
<text transform="translate(74.14 106.4) scale(0.9709 1)" font-size="25.0">36</text>
<text transform="translate(74.88 179) scale(0.9819 1)" font-size="25.0">32</text>
<text transform="translate(74.04 251.6) scale(1.0064 1)" font-size="25.0">28</text>
<text transform="translate(74.09 324.2) scale(0.9646 1)" font-size="25.0">24</text>
<text transform="translate(68.02 447.05) scale(0.9477 1)" font-size="25.0">2.5</text>
<text transform="translate(66.13 526.5) scale(1.0165 1)" font-size="25.0">2.0</text>
<text transform="translate(71.84 605.7) scale(0.8345 1)" font-size="25.0">1.5</text>
<text transform="translate(77.55 725.8) scale(0.8786 1)" font-size="25.0">18</text>
<text transform="translate(77.72 795.2) scale(0.8442 1)" font-size="25.0">15</text>
<text transform="translate(78.72 864.7) scale(0.8406 1)" font-size="25.0">12</text>
<text transform="translate(87.17 934.2) scale(1.0378 1)" font-size="25.0">9</text>
<text transform="translate(72.28 1052.8) scale(1.0562 1)" font-size="25.0">20</text>
<text transform="translate(77.55 1116.4) scale(0.8786 1)" font-size="25.0">18</text>
<text transform="translate(77.05 1180) scale(0.8786 1)" font-size="25.0">16</text>
<text transform="translate(77.08 1243.5) scale(0.8655 1)" font-size="25.0">14</text>
<text transform="translate(78.72 1307.2) scale(0.8406 1)" font-size="25.0">12</text>
<text transform="translate(74.19 1395.7) scale(0.9686 1)" font-size="25.0">25</text>
<text transform="translate(72.28 1475.2) scale(1.0562 1)" font-size="25.0">20</text>
<text transform="translate(77.72 1554.7) scale(0.8442 1)" font-size="25.0">15</text>
<text transform="translate(75.65 1634.1) scale(0.9343 1)" font-size="25.0">10</text>
<text transform="translate(36 188.15) rotate(-90) scale(1.0020 1)" text-anchor="middle" font-size="28.0">Foliar N (mg g<tspan font-size="17.0" dy="-13.5">−1</tspan><tspan dy="13.5">)</tspan></text>
<text transform="translate(36 517.7) rotate(-90) scale(0.9827 1)" text-anchor="middle" font-size="28.0">Foliar P (mg g<tspan font-size="17.0" dy="-13.5">−1</tspan><tspan dy="13.5">)</tspan></text>
<text transform="translate(36 844.27) rotate(-90) scale(0.9969 1)" text-anchor="middle" font-size="28.0">Foliar K (mg g<tspan font-size="17.0" dy="-13.5">−1</tspan><tspan dy="13.5">)</tspan></text>
<text transform="translate(36 1171.15) rotate(-90) scale(0.9927 1)" text-anchor="middle" font-size="28.0">Foliar C:N</text>
<text transform="translate(36 1498.05) rotate(-90) scale(0.9753 1)" text-anchor="middle" font-size="28.0">Foliar N:P</text>
<text transform="translate(233.49 1678.9) scale(0.9141 1)" font-size="24.3">−N</text>
<text transform="translate(441.78 1678.9) scale(0.9211 1)" font-size="24.3">+N</text>
<text transform="translate(758.18 1678.9) scale(0.8374 1)" font-size="24.3">−P</text>
<text transform="translate(966.19 1678.9) scale(0.8338 1)" font-size="24.3">+P</text>
<text transform="translate(1279.57 1678.9) scale(0.8507 1)" font-size="24.3">−K</text>
<text transform="translate(1487.82 1678.9) scale(0.8092 1)" font-size="24.3">+K</text>
<text transform="translate(809.26 1720.0) scale(1.0348 1)" font-size="27.7">Treatment</text>
<text transform="translate(113.0 33.5) scale(0.94 1)" font-size="40" font-weight="bold" stroke="#000" stroke-width="1.2" stroke-linejoin="round">a</text>
<text transform="translate(633.8 33.5) scale(1.07 1)" font-size="40" font-weight="bold" stroke="#000" stroke-width="1.2" stroke-linejoin="round">b</text>
<text transform="translate(1155.6 33.5) scale(1.07 1)" font-size="40" font-weight="bold" stroke="#000" stroke-width="1.2" stroke-linejoin="round">c</text>
<g id="annot-n">
<text transform="translate(269.89 309) scale(0.9998 1)" font-size="24.4">N effect (</text>
<text transform="translate(368.71 309) scale(0.8002 1)" font-size="24.4" font-style="italic">P </text>
<text transform="translate(388.13 309) scale(0.7943 1)" font-size="24.4">= </text>
<text transform="translate(405.04 309) scale(1.0904 1)" font-size="24.4">0.006)</text>
</g>
<g id="annot-p">
<text transform="translate(786.84 309) scale(0.9751 1)" font-size="24.4">P effect (</text>
<text transform="translate(882.55 309) scale(0.7546 1)" font-size="24.4" font-style="italic">P </text>
<text transform="translate(900.94 309) scale(0.7859 1)" font-size="24.4">= </text>
<text transform="translate(917.78 309) scale(1.0424 1)" font-size="24.4">0.023)</text>
</g>
<text x="455" y="111.5" text-anchor="middle" font-size="36.5" letter-spacing="0.9">**</text>
<text x="975.5" y="107.2" text-anchor="middle" font-size="36.5">*</text>
</svg></body></html>
